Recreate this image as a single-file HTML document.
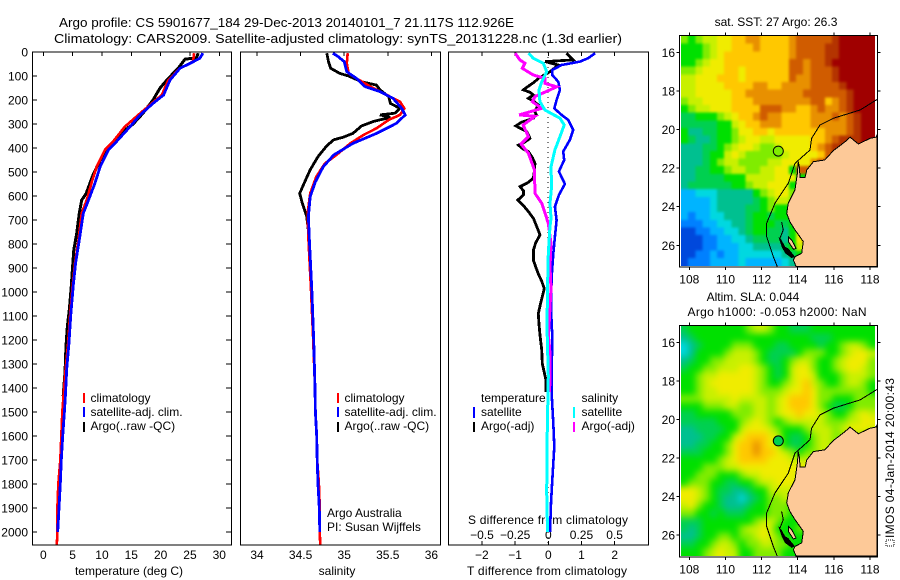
<!DOCTYPE html>
<html>
<head>
<meta charset="utf-8">
<title>Argo profile</title>
<style>
html,body{margin:0;padding:0;background:#fff;width:900px;height:580px;overflow:hidden}
svg{display:block}
text{font-family:"Liberation Sans",sans-serif;font-size:12px;fill:#000}
.ln{fill:none;stroke-linejoin:miter;shape-rendering:crispEdges}
</style>
</head>
<body>
<svg id="fig" xmlns="http://www.w3.org/2000/svg" width="900" height="580" viewBox="0 0 900 580">
<defs>
<filter id="blurSst" x="-5%" y="-5%" width="110%" height="110%" color-interpolation-filters="sRGB"><feGaussianBlur stdDeviation="1.3"/><feComponentTransfer><feFuncA type="linear" slope="30"/></feComponentTransfer></filter>
<filter id="blurSla" x="-5%" y="-5%" width="110%" height="110%" color-interpolation-filters="sRGB"><feGaussianBlur stdDeviation="3.4"/><feComponentTransfer><feFuncA type="linear" slope="30"/></feComponentTransfer></filter>
<clipPath id="clipSst"><rect x="681" y="36" width="194" height="230"/></clipPath>
<clipPath id="clipSla"><rect x="681" y="326" width="194" height="230"/></clipPath>
</defs>
<rect x="0" y="0" width="900" height="580" fill="#fff"/>
<text x="59" y="27" style="font-size:13px" textLength="455" lengthAdjust="spacingAndGlyphs">Argo profile: CS 5901677_184 29-Dec-2013 20140101_7 21.117S 112.926E</text>
<text x="54" y="43" style="font-size:13px" textLength="568" lengthAdjust="spacingAndGlyphs">Climatology: CARS2009. Satellite-adjusted climatology: synTS_20131228.nc (1.3d earlier)</text>
<text x="129" y="575" text-anchor="middle">temperature (deg C)</text>
<text x="337" y="575" text-anchor="middle">salinity</text>
<text x="547" y="575" text-anchor="middle" textLength="160">T difference from climatology</text>
<text x="548" y="524" text-anchor="middle" textLength="160">S difference from climatology</text>
<text x="327" y="517">Argo Australia</text>
<text x="327" y="531">PI: Susan Wijffels</text>
<text x="776" y="26" text-anchor="middle">sat. SST: 27 Argo: 26.3</text>
<text x="753" y="301" text-anchor="middle">Altim. SLA: 0.044</text>
<text x="777" y="316" text-anchor="middle" textLength="179">Argo h1000: -0.053 h2000: NaN</text>
<text transform="translate(894,538) rotate(-90)" textLength="160">IMOS 04-Jan-2014 20:00:43</text>
<rect x="886" y="540" width="8" height="6" fill="none" stroke="#000" stroke-width="1" stroke-dasharray="1 1" shape-rendering="crispEdges"/>
</svg>
<script>
// ---- Temperature panel data (depth in m, temperature in deg C) ----
const tempClimDepth = [5,26,40,68,117,179,214,262,311,373,408,478,547,617,672,783,880,976,1100,1211,1322,1433,1500,1600,1700,1800,1900,2000,2054];
const tempClim = [25.7,25.6,25.5,23.3,21.3,20.2,18.5,16.2,13.9,11.9,10.5,9.1,8.2,7.4,6.55,6.0,5.4,5.0,4.55,4.25,3.8,3.45,3.24,3.07,2.9,2.56,2.4,2.4,2.3];
const tempSatDepth = [5,26,40,68,117,179,214,262,311,373,408,478,547,617,672,783,880,976,1100,1211,1322,1433,1500,1600,1700,1800,1900,2000];
const tempSat = [27.2,26.7,25.6,23.3,21.6,20.5,18.7,16.5,14.8,12.5,11.1,9.7,8.8,7.7,6.82,6.14,5.5,5.1,4.67,4.38,3.99,3.76,3.6,3.3,3.07,2.9,2.68,2.45];
const tempArgoDepth = [5,24,30,68,110,150,200,255,300,335,380,420,450,510,590,617,672,756,825,894,976,1074,1142,1225,1336,1433];
const tempArgo = [26.4,26.1,24.15,23,21.3,19.9,18.7,17,15.3,13.4,12.2,10.5,9.7,8.5,7.3,6.55,6.14,5.7,5.2,5.0,4.77,4.43,4.1,3.87,3.7,3.4];
// ---- Salinity panel data ----
const salClimDepth = [5,47,89,110,144,179,207,235,262,283,318,346,381,429,464,519,589,672,776,1000,1200,1400,1500,1600,1700,1800,1900,2000,2054];
const salClim = [35.04,35.03,35.05,35.14,35.3,35.49,35.64,35.69,35.64,35.51,35.37,35.22,35.07,34.91,34.78,34.68,34.61,34.58,34.59,34.62,34.645,34.665,34.67,34.685,34.69,34.71,34.72,34.72,34.725];
const salSatDepth = [5,19,40,82,110,144,165,193,235,262,297,339,381,429,478,541,603,686,776,1000,1200,1400,1500,1600,1700,1800,1900,2000];
const salSat = [34.87,34.93,35.0,35.03,35.14,35.24,35.41,35.56,35.66,35.7,35.6,35.37,35.1,34.88,34.76,34.67,34.61,34.59,34.6,34.63,34.65,34.665,34.67,34.685,34.69,34.7,34.715,34.72];
const salArgoDepth = [5,40,68,89,100,124,138,158,186,214,235,255,262,272,290,308,339,355,366,391,436,491,547,589,630,686,776];
const salArgo = [34.8,34.82,34.845,34.95,35.05,35.2,35.37,35.41,35.51,35.53,35.64,35.58,35.41,35.53,35.33,35.2,35.1,34.99,34.88,34.8,34.7,34.61,34.54,34.49,34.52,34.57,34.6];
// ---- Difference panel data ----
const diffTSatDepth = [5,26,40,54,75,96,124,158,200,235,262,283,325,366,415,450,498,550,596,645,700,770,840,940,1075,1185,1350,1420,1547,1644,1783,1880,2000];
const diffTSat = [1.41,1.2,0.955,0.4,0.12,0.12,0.3,0.35,0.25,0.18,0.4,0.6,0.75,0.65,0.45,0.48,0.32,0.5,0.32,0.2,0.25,0.2,0.15,0.1,0.08,0.12,0.1,0.1,0.15,0.18,0.12,0.08,0.05];
const diffTArgoDepth = [5,33,40,54,82,110,125,138,150,158,168,179,193,207,221,235,249,262,276,292,308,332,346,360,374,388,402,415,440,464,495,526,545,561,578,596,617,640,665,693,730,762,795,826,868,895,924,955,986,1040,1090,1135,1180,1240,1298,1368,1417];
const diffTArgo = [0.55,0.75,-0.1,0.3,0.05,-0.3,-0.42,-0.55,-0.68,-0.75,-0.55,-0.45,-0.6,-0.42,-0.3,-0.36,-0.4,-0.36,-0.45,-0.8,-0.98,-0.65,-0.6,-0.55,-0.7,-0.9,-0.78,-0.6,-0.48,-0.4,-0.42,-0.45,-0.62,-0.85,-0.75,-0.75,-0.92,-0.75,-0.6,-0.45,-0.34,-0.25,-0.38,-0.45,-0.45,-0.38,-0.3,-0.2,-0.12,-0.22,-0.3,-0.28,-0.25,-0.2,-0.18,-0.07,-0.07];
const diffSSatDepth = [5,26,47,82,124,158,207,242,276,304,352,408,478,561,630,693,727,840,965,1145,1350,1505,1644,1839,2000];
const diffSSat = [-0.15,-0.113,-0.038,-0.012,-0.05,-0.07,-0.063,-0.025,0.088,0.12,0.088,0.05,0.02,0.025,0.013,0.02,0.013,0,-0.005,-0.01,0,-0.005,-0.01,-0.012,-0.005];
const diffSArgoDepth = [5,33,47,68,96,110,131,145,186,207,235,262,268,304,352,383,422,491,589,630,693,714,798,895,986,1062,1145,1173,1256,1353,1417];
const diffSArgo = [-0.25,-0.214,-0.176,-0.196,-0.113,-0.025,-0.025,0.063,-0.1,-0.12,-0.05,-0.22,-0.1,-0.19,-0.15,-0.206,-0.15,-0.105,-0.1,-0.05,-0.012,0,0.02,0.013,0.02,0.013,0.005,0,0.013,0.013,0.01];
// ---- Tick labels ----
const depthTicks = [0,100,200,300,400,500,600,700,800,900,1000,1100,1200,1300,1400,1500,1600,1700,1800,1900,2000];
const tempTicks = [0,5,10,15,20,25,30];
const salTicks = [34,34.5,35,35.5,36];
const diffTTicks = [-2,-1,0,1,2];
const diffSTicks = [-0.5,-0.25,0,0.25,0.5];
const diffSTickLabels = ["\u22120.5","\u22120.25","0","0.25","0.5"];
const diffTTickLabels = ["\u22122","\u22121","0","1","2"];
const lonTicks = [108,110,112,114,116,118];
const latTicks = [16,18,20,22,24,26];
// ---- Map data: each letter is a colour level of the shared palette ----
const sstRows = [
"hghiijjkkllkkkklmmmmmnooooo",
"ggghijjkkklkkkklmmmmnnooooo",
"ggghijkkkkkkkkklmmmmnnooooo",
"gghijjkkkkkkkkkmmlmmnoooooo",
"hhijjjkkjkkkkkkmmlmmmnooooo",
"iijjjkkkjkkkkkkmllmmmnooooo",
"iijjjjkkkkllkkllllmmmmnoooo",
"iijjjjjkkllllllllmmmmmmnooo",
"hiijjjjkkkllllllllmmklmnooo",
"ghiijjjkkkkmmmllkklmllmnooo",
"ffggghijkklmllkkkklllmlmnoo",
"fffffggijkklllkkkklllllmnoo",
"geeffgghjjkkjkkkkkkklllmnoo",
"gfeefgghijjiijjjjjkklmnnnoo",
"eeeffghijjihhijjjjklmnnnooo",
"eeefggijihhhhhijjjjkmnnoooo",
"eeefghiihhhhiijjjjlmnoooooo",
"eeffgghiihhiijjgmmooooooooo",
"eeffffgggiiiijjjggm",
"effffffgghiijjjggg",
"ccdddeeeeeghijjhgg",
"ccccdeeeeefghiihgg",
"ccccdeeeeffghggggg",
"cbccddeeefggfggghj",
"bbbccddeefgggffghj",
"aabbccddefggffegik",
"aaabbccddeffffegjm",
"aaabbcccddeeeefgij",
"aabbcbccddddddefgg",
"abbbccccdcccccdegg"];
const slaRows = [
"fgggggggghiihggfffggggggggg",
"efggggggggggggggggfffgggggg",
"defgggghhhgggffggggfgghiihg",
"degggghiiihgffffghhhgghijji",
"efgghhiiiihgffghiihgghijjjh",
"fgghhiiijjihgfgijjhgghijjih",
"gghiijjjjjihgfgijjiggghiiih",
"gghijjjjjjihgghijkihgghiihg",
"gghiijjjjjihhhijjkjhhhhhhhg",
"hhhiiiijiiiihijkkkjhhggghhh",
"ggghhhiihhiihijkkkjhgffghhh",
"ffggggghhhiihijjkjjihgghiji",
"fffffggghijihghiiiiihhhiijj",
"eeffffggijjjihggghiiihijjji",
"eeeffggijkkkjigffghiihhhhhh",
"eeffgghjkklkjigffghiihhhhhh",
"fffggghjkklkkjihghhiihhhhhh",
"ggggghijkkkkjjjiiiiiihhhhhh",
"ggghhhiijjjjjjjjjjiihhhhhhh",
"gghhhggghiijjjjjiiihhhhhhhh",
"ghhhggffgghiijjjihhhhhhhhhh",
"jjihgffeefggiiiihh",
"jjihgfeedefghhiihh",
"ijhggfeeefgghhhggg",
"hhggfgfffggghhhggg",
"fffggggggghiihggghh",
"fefggggghiijigggh",
"eefgghhghhijihgggg",
"ffgghiihghhiihhggg",
"ggghijiigghhhhgggg"];
const levelColors = {a:"#0048dc",b:"#0080ff",c:"#00b4ff",d:"#00d8e0",e:"#00c090",f:"#00d050",g:"#00e000",h:"#80ec00",i:"#c8f000",j:"#f0ec00",k:"#ffc800",l:"#e89000",m:"#d05c00",n:"#b43400",o:"#a00000"};
const gridLon0 = 107.54, gridLat0 = 15.155, gridDLon = 0.398, gridDLat = 0.397;
const landLon = [118.4,118.32,118,117.36,116.9,116.62,115.97,115.5,114.87,114.5,114.41,114.13,114.09,114.03,113.98,113.85,113.48,113.39,113.57,113.85,114.31,114.22,113.85,113.76,113.91,118.4];
const landLat = [20.28,20.4,20.46,20.75,20.4,20.63,21.1,21.58,21.67,22.1,22.48,22.48,21.93,21.67,22.27,23.13,23.82,24.34,24.78,25.2,25.81,26.41,26.59,26.76,27.1,27.1];
const isobathLon = [118.4,117.45,115.97,115.23,114.77,114.68,113.85,113.48,112.74,112.28,112.28,112.65,112.87];
const isobathLat = [18.44,18.99,19.42,19.77,20.46,21.06,21.75,22.79,23.82,24.86,25.55,26.59,27.1];
const islandLon = [112.93,113.11,113.3,113.48,113.85,113.67,113.3,113.11];
const islandLat = [25.55,25.73,26.07,26.16,26.59,26.67,26.41,26.07];
const peninsulaLon = [113.48,113.67,113.91,113.76,113.48];
const peninsulaLat = [25.55,25.73,26.16,26.2,25.81];
const spitLon = [113.11,113.2,113.02];
const spitLat = [24.78,25.2,25.63];
const argoLon = 112.926, argoLat = 21.117;

const svg = document.getElementById('fig');
const NS = 'http://www.w3.org/2000/svg';
function mk(tag, name, interact) {
  const el = document.createElementNS(NS, tag);
  
  
  svg.appendChild(el);
  return el;
}
function set(el, o) { for (const k in o) el.setAttribute(k, o[k]); return el; }
function label(name, x, y, s, anchor) {
  const t = mk('text', name);
  set(t, {x: x, y: y, 'text-anchor': anchor || 'middle'});
  t.textContent = s;
  return t;
}
// ---- Axis functions ----
const yD = d => 52 + 0.24 * d;
const xTemp = v => 43.3 + 5.867 * v;
const xSal = v => 257 + 87.2 * (v - 34);
const xDT = v => 548.3 + 33.2 * v;
const xDS = v => 548.3 + 132.7 * v;
const lonX = v => 689.3 + 18.07 * (v - 108);
const latYTop = v => 52.3 + 19.3 * (v - 16);
const latYBot = v => 342.3 + 19.27 * (v - 16);

function frame(name, x0, x1, y0, y1, w) {
  const r = mk('rect', name);
  set(r, {x: x0, y: y0, width: x1 - x0, height: y1 - y0, fill: 'none', stroke: '#000', 'stroke-width': w || 1, 'shape-rendering': 'crispEdges'});
}
function tick(name, x1, y1, x2, y2) {
  const l = mk('line', name);
  set(l, {x1: x1, y1: y1, x2: x2, y2: y2, stroke: '#000', 'stroke-width': 1, 'shape-rendering': 'crispEdges'});
}
function series(name, depths, vals, xf, color, w) {
  const p = mk('polyline', name);
  const pts = vals.map((v, i) => xf(v).toFixed(1) + ',' + yD(depths[i]).toFixed(1)).join(' ');
  set(p, {points: pts, stroke: color, 'stroke-width': w, class: 'ln'});
}
function bar(name, x, y0, y1, color) {
  const b = mk('rect', name);
  set(b, {x: x, y: y0, width: 2, height: y1 - y0, fill: color, 'shape-rendering': 'crispEdges'});
}

// ---- Panels ----
const P = {t: 52, b: 545};
const panels = [{n: 'temperature', l: 32, r: 231}, {n: 'salinity', l: 240, r: 440}, {n: 'difference', l: 448, r: 648}];
depthTicks.forEach(d => {
  tick('depth-tick-left', 32, yD(d), 37, yD(d));
  tick('depth-tick-right', 226, yD(d), 231, yD(d));
  label('depth-tick-label', 28, yD(d) + 4.5, String(d), 'end');
});
tempTicks.forEach(v => {
  tick('temperature-tick', xTemp(v), 52, xTemp(v), 56);
  label('temperature-tick-label', xTemp(v), 559, String(v));
});
salTicks.forEach(v => {
  tick('salinity-tick', xSal(v), 52, xSal(v), 56);
  label('salinity-tick-label', xSal(v), 559, String(v));
});
diffTTicks.forEach((v, i) => {
  tick('t-difference-tick-top', xDT(v), 52, xDT(v), 56);
  tick('t-difference-tick-bottom', xDT(v), 541, xDT(v), 545);
  label('t-difference-tick-label', xDT(v), 559, diffTTickLabels[i]);
});
diffSTicks.forEach((v, i) => {
  label('s-difference-tick-label', xDS(v), 539, diffSTickLabels[i]);
});

// zero line
const zero = mk('line', 'zero-difference-line');
set(zero, {x1: 548, y1: 52, x2: 548, y2: 545, stroke: '#000', 'stroke-width': 1, 'stroke-dasharray': '1 4', 'shape-rendering': 'crispEdges'});

series('temperature-argo-line', tempArgoDepth, tempArgo, xTemp, '#000', 3);
series('temperature-climatology-line', tempClimDepth, tempClim, xTemp, '#f00', 2.6);
series('temperature-satellite-line', tempSatDepth, tempSat, xTemp, '#00f', 2.8);
series('salinity-argo-line', salArgoDepth, salArgo, xSal, '#000', 2.8);
series('salinity-climatology-line', salClimDepth, salClim, xSal, '#f00', 2.6);
series('salinity-satellite-line', salSatDepth, salSat, xSal, '#00f', 2.8);
series('diff-temperature-argo-line', diffTArgoDepth, diffTArgo, xDT, '#000', 2.8);
series('diff-temperature-satellite-line', diffTSatDepth, diffTSat, xDT, '#00f', 2.6);
series('diff-salinity-argo-line', diffSArgoDepth, diffSArgo, xDS, '#f0f', 3);
series('diff-salinity-satellite-line', diffSSatDepth, diffSSat, xDS, '#0ff', 3);

panels.forEach(p => frame(p.n + '-panel-frame', p.l + 0.5, p.r + 0.5, P.t, P.b, 1));

// ---- Legends ----
[[83, 90.5], [337, 344.5]].forEach((c, i) => {
  const pre = i === 0 ? 'temperature' : 'salinity';
  bar(pre + '-legend-climatology-swatch', c[0], 393, 403, '#f00');
  bar(pre + '-legend-satellite-swatch', c[0], 407, 417, '#00f');
  bar(pre + '-legend-argo-swatch', c[0], 422, 432, '#000');
  label(pre + '-legend-climatology', c[1], 402, 'climatology', 'start');
  label(pre + '-legend-satellite', c[1], 416, 'satellite-adj. clim.', 'start');
  label(pre + '-legend-argo', c[1], 430, 'Argo(..raw -QC)', 'start');
});
label('difference-legend-temperature-heading', 481, 402, 'temperature', 'start');
label('difference-legend-salinity-heading', 581.5, 402, 'salinity', 'start');
label('difference-legend-t-satellite', 481, 416, 'satellite', 'start');
label('difference-legend-s-satellite', 581.5, 416, 'satellite', 'start');
label('difference-legend-t-argo', 481, 430, 'Argo(-adj)', 'start');
label('difference-legend-s-argo', 581.5, 430, 'Argo(-adj)', 'start');
bar('difference-legend-t-satellite-swatch', 473, 407, 418, '#00f');
bar('difference-legend-t-argo-swatch', 473, 422, 432, '#000');
bar('difference-legend-s-satellite-swatch', 573, 407, 418, '#0ff');
bar('difference-legend-s-argo-swatch', 573, 422, 432, '#f0f');

// ---- Maps ----
function drawMap(pre, rows, latY, top, bottom, labelY, dotColor, clipId, filterId) {
  const clipGroup = mk('g', pre + '-heatmap');
  clipGroup.setAttribute('clip-path', 'url(#' + clipId + ')');
  const blurGroup = mk('g', pre + '-heatmap-cells');
  blurGroup.setAttribute('filter', 'url(#' + filterId + ')');
  clipGroup.appendChild(blurGroup);
  rows.forEach((row, j) => {
    for (let i = 0; i < row.length; i++) {
      const c = mk('rect', pre + '-heatmap-cell');
      const x0 = lonX(gridLon0 + i * gridDLon), x1 = lonX(gridLon0 + (i + 1) * gridDLon);
      const y0 = latY(gridLat0 + j * gridDLat), y1 = latY(gridLat0 + (j + 1) * gridDLat);
      set(c, {x: x0.toFixed(1), y: y0.toFixed(1), width: (x1 - x0 + 0.4).toFixed(1), height: (y1 - y0 + 0.4).toFixed(1), fill: levelColors[row[i]], 'shape-rendering': 'crispEdges'});
      blurGroup.appendChild(c);
    }
  });
  const pts = (lo, la) => lo.map((v, i) => lonX(v).toFixed(1) + ',' + Math.min(latY(la[i]), bottom).toFixed(1)).join(' ');
  const land = mk('polygon', pre + '-land');
  set(land, {points: pts(landLon, landLat), fill: '#fdc998', stroke: '#000', 'stroke-width': 1, 'shape-rendering': 'crispEdges'});
  const pen = mk('polygon', pre + '-bay-peninsula');
  set(pen, {points: pts(peninsulaLon, peninsulaLat), fill: '#fdc998', stroke: '#000', 'stroke-width': 1, 'shape-rendering': 'crispEdges'});
  const isl = mk('polygon', pre + '-bay-island');
  set(isl, {points: pts(islandLon, islandLat), fill: '#000', 'shape-rendering': 'crispEdges'});
  const spit = mk('polyline', pre + '-bay-spit');
  set(spit, {points: pts(spitLon, spitLat), stroke: '#000', 'stroke-width': 1, class: 'ln'});
  const iso = mk('polyline', pre + '-isobath');
  set(iso, {points: pts(isobathLon, isobathLat), stroke: '#000', 'stroke-width': 1, class: 'ln'});
  const dot = mk('circle', pre + '-argo-position');
  set(dot, {cx: lonX(argoLon).toFixed(1), cy: latY(argoLat).toFixed(1), r: 5, fill: dotColor, stroke: '#000', 'stroke-width': 1});
  frame(pre + '-map-frame', 679.5, 877.5, top, bottom, 1);
  lonTicks.forEach(v => {
    tick(pre + '-lon-tick-top', lonX(v), top - 3, lonX(v), top);
    tick(pre + '-lon-tick-bottom', lonX(v), bottom, lonX(v), bottom + 3);
    label(pre + '-lon-tick-label', lonX(v), labelY, String(v));
  });
  latTicks.forEach(v => {
    tick(pre + '-lat-tick-left', 676.5, latY(v), 679.5, latY(v));
    tick(pre + '-lat-tick-right', 877.5, latY(v), 880.5, latY(v));
    label(pre + '-lat-tick-label', 675, latY(v) + 4.5, String(v), 'end');
  });
}
drawMap('sst', sstRows, latYTop, 35.5, 267, 283.5, '#80ec00', 'clipSst', 'blurSst');
drawMap('sla', slaRows, latYBot, 325.5, 557, 573.5, '#00d050', 'clipSla', 'blurSla');
</script>
</body>
</html>
